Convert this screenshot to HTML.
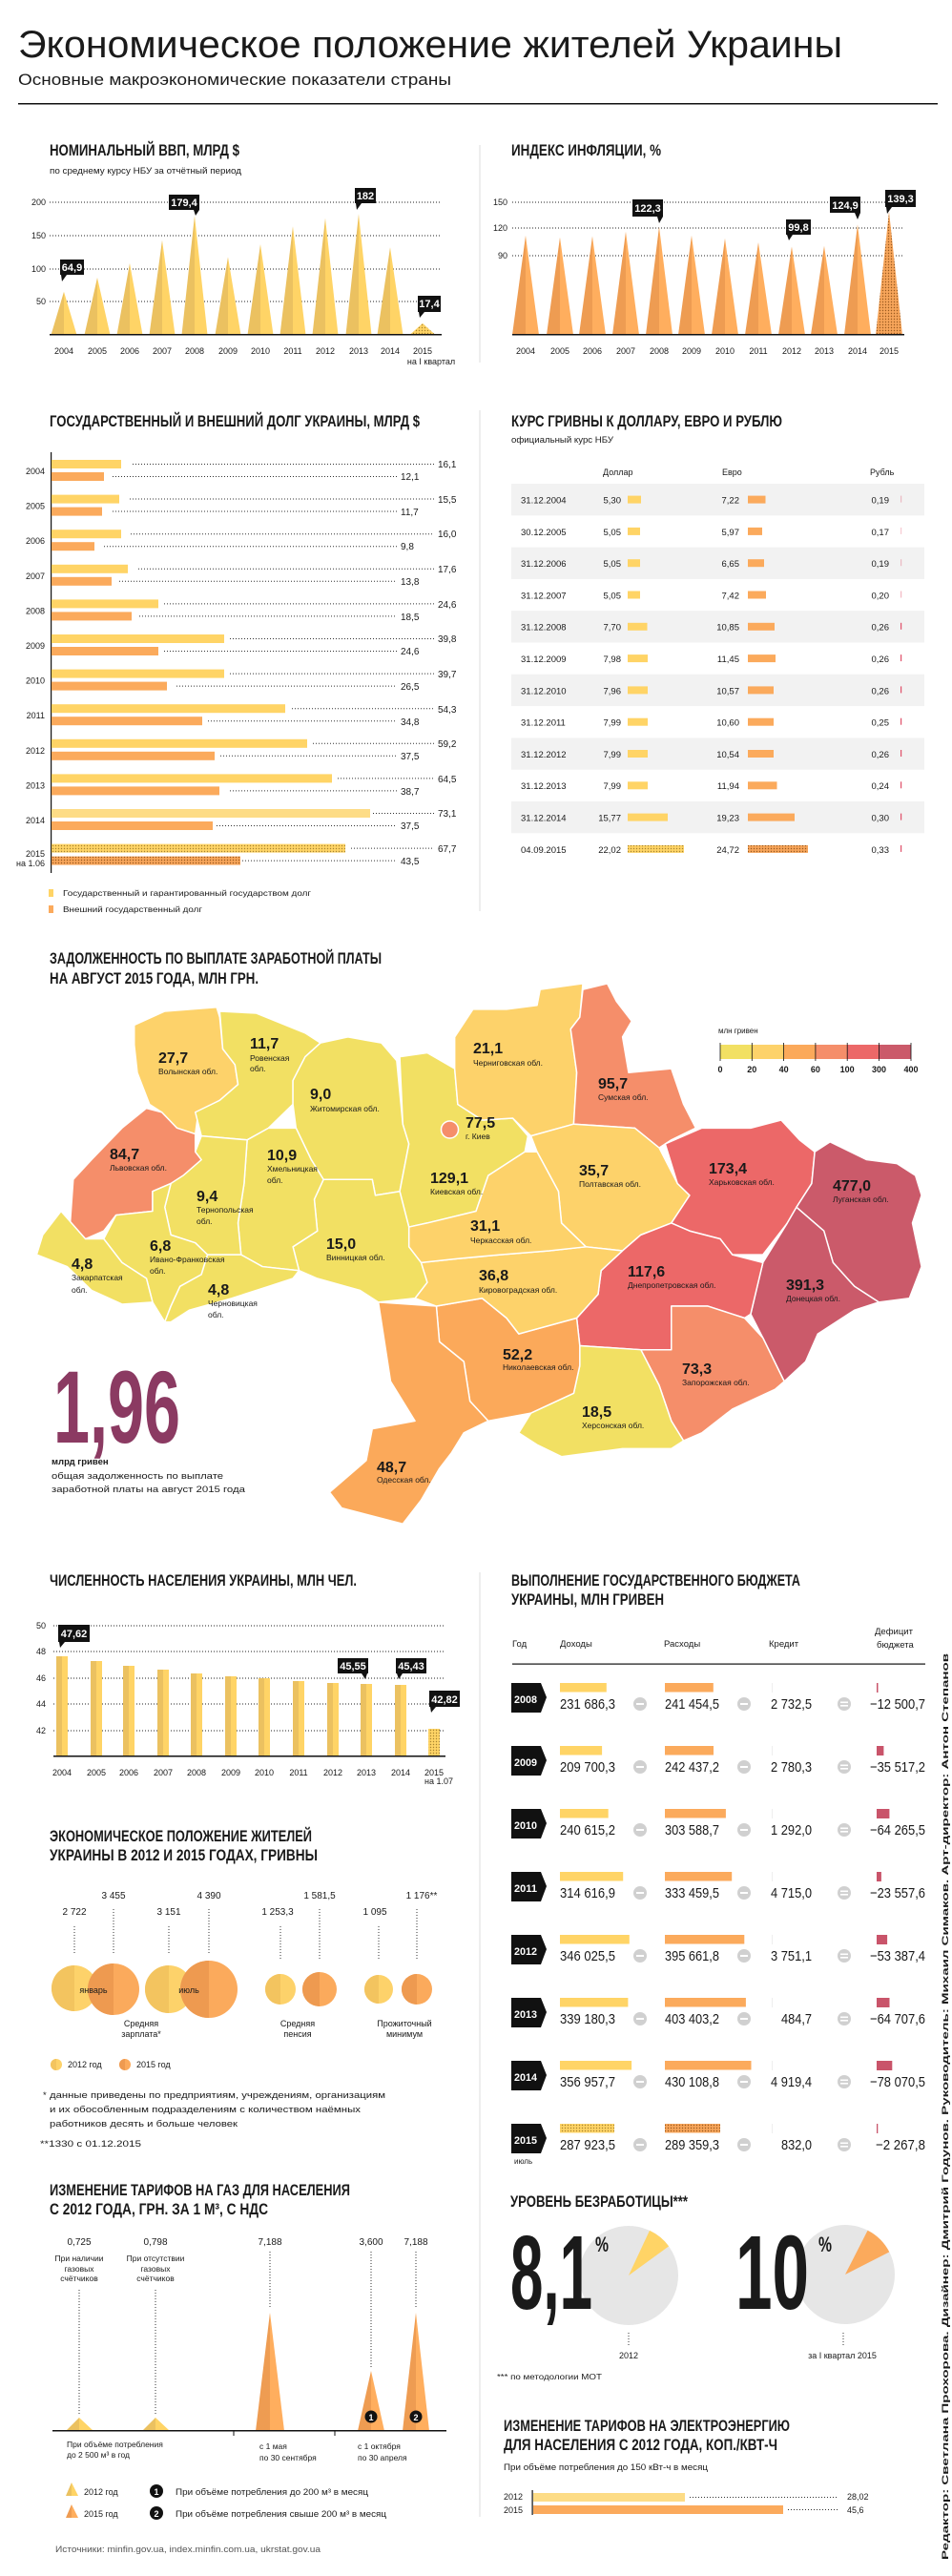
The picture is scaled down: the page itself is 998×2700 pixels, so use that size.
<!DOCTYPE html>
<html><head><meta charset="utf-8"><style>
html,body{margin:0;padding:0;background:#fff;}
svg{display:block;}
text{font-family:"Liberation Sans",sans-serif;fill:#1a1a1a;}
.h{font-weight:bold;font-size:17px;}
.s{font-size:9px;}
.b{font-weight:bold;}
.w{fill:#fff;font-weight:bold;font-size:11px;}
.grid{stroke:#222;stroke-width:1;stroke-dasharray:1 2;}
.dot{stroke:#333;stroke-width:1;stroke-dasharray:1 2;}
</style></head><body>
<svg width="998" height="2700" viewBox="0 0 998 2700" xmlns="http://www.w3.org/2000/svg">
<defs>
<pattern id="py" width="3" height="3" patternUnits="userSpaceOnUse"><rect width="3" height="3" fill="#FFD466"/><circle cx="1.5" cy="1.5" r="0.7" fill="#a88530"/></pattern>
<pattern id="po" width="3" height="3" patternUnits="userSpaceOnUse"><rect width="3" height="3" fill="#F7A55A"/><circle cx="1.5" cy="1.5" r="0.7" fill="#9a5a20"/></pattern>
</defs>

<!-- Title -->
<text x="19" y="60" font-size="40" textLength="864" lengthAdjust="spacingAndGlyphs">Экономическое положение жителей Украины</text>
<text x="19" y="89" font-size="17" textLength="454" lengthAdjust="spacingAndGlyphs">Основные макроэкономические показатели страны</text>
<rect x="19" y="108" width="964" height="1.5" fill="#111"/>

<line x1="503" y1="152" x2="503" y2="380" stroke="#ddd"/>
<line x1="503" y1="430" x2="503" y2="955" stroke="#ddd"/>
<line x1="503" y1="1648" x2="503" y2="2638" stroke="#ddd"/>

<!-- GDP -->
<text class="h" x="52" y="163" textLength="199" lengthAdjust="spacingAndGlyphs">НОМИНАЛЬНЫЙ ВВП, МЛРД $</text>
<text x="52" y="182" font-size="9" textLength="201" lengthAdjust="spacingAndGlyphs">по среднему курсу НБУ за отчётный период</text>
<g class="s" text-anchor="end">
<text x="48" y="215">200</text><text x="48" y="250">150</text><text x="48" y="285">100</text><text x="48" y="319">50</text>
</g>
<line class="grid" x1="52" y1="212" x2="463" y2="212"/><line class="grid" x1="52" y1="247" x2="463" y2="247"/>
<line class="grid" x1="52" y1="282" x2="463" y2="282"/><line class="grid" x1="52" y1="316" x2="463" y2="316"/>
<g id="gdp">
<polygon points="53.5,351 67,305.8 67,351" fill="#EBC160"/><polygon points="67,351 67,305.8 80.5,351" fill="#FFD466"/>
<polygon points="88.5,351 102,291 102,351" fill="#EBC160"/><polygon points="102,351 102,291 115.5,351" fill="#FFD466"/>
<polygon points="122.5,351 136,276 136,351" fill="#EBC160"/><polygon points="136,351 136,276 149.5,351" fill="#FFD466"/>
<polygon points="156.5,351 170,251.7 170,351" fill="#EBC160"/><polygon points="170,351 170,251.7 183.5,351" fill="#FFD466"/>
<polygon points="190.5,351 204,226 204,351" fill="#EBC160"/><polygon points="204,351 204,226 217.5,351" fill="#FFD466"/>
<polygon points="225.5,351 239,269.4 239,351" fill="#EBC160"/><polygon points="239,351 239,269.4 252.5,351" fill="#FFD466"/>
<polygon points="259.5,351 273,256 273,351" fill="#EBC160"/><polygon points="273,351 273,256 286.5,351" fill="#FFD466"/>
<polygon points="293.5,351 307,237.3 307,351" fill="#EBC160"/><polygon points="307,351 307,237.3 320.5,351" fill="#FFD466"/>
<polygon points="327.5,351 341,228.6 341,351" fill="#EBC160"/><polygon points="341,351 341,228.6 354.5,351" fill="#FFD466"/>
<polygon points="362.5,351 376,224.3 376,351" fill="#EBC160"/><polygon points="376,351 376,224.3 389.5,351" fill="#FFD466"/>
<polygon points="395.5,351 409,259.3 409,351" fill="#EBC160"/><polygon points="409,351 409,259.3 422.5,351" fill="#FFD466"/>
<polygon points="429.5,351 443,338.9 456.5,351" fill="url(#py)"/>
</g>
<rect x="52" y="350" width="411" height="1.5" fill="#111"/>
<g class="s" text-anchor="middle">
<text x="67" y="371">2004</text><text x="102" y="371">2005</text><text x="136" y="371">2006</text><text x="170" y="371">2007</text><text x="204" y="371">2008</text><text x="239" y="371">2009</text><text x="273" y="371">2010</text><text x="307" y="371">2011</text><text x="341" y="371">2012</text><text x="376" y="371">2013</text><text x="409" y="371">2014</text><text x="443" y="371">2015</text>
<text x="452" y="382">на I квартал</text>
</g>
<!-- callouts -->
<rect x="63" y="272" width="25" height="16" fill="#111"/><polygon points="64,288 70,288 65,295" fill="#111"/><text class="w" x="75.5" y="284" text-anchor="middle">64,9</text>
<rect x="177" y="204" width="32" height="16" fill="#111"/><polygon points="203,220 209,220 205,226" fill="#111"/><text class="w" x="193" y="216" text-anchor="middle">179,4</text>
<rect x="372" y="197" width="22" height="16" fill="#111"/><polygon points="373,213 379,213 374,220" fill="#111"/><text class="w" x="383" y="209" text-anchor="middle">182</text>
<rect x="438" y="310" width="24" height="17" fill="#111"/><polygon points="439,327 445,327 440,333" fill="#111"/><text class="w" x="450" y="322" text-anchor="middle">17,4</text>

<!-- Inflation -->
<text class="h" x="536" y="163" textLength="157" lengthAdjust="spacingAndGlyphs">ИНДЕКС ИНФЛЯЦИИ, %</text>
<g class="s" text-anchor="end"><text x="532" y="215">150</text><text x="532" y="242">120</text><text x="532" y="271">90</text></g>
<line class="grid" x1="537" y1="212" x2="948" y2="212"/><line class="grid" x1="537" y1="239" x2="948" y2="239"/><line class="grid" x1="537" y1="268" x2="948" y2="268"/>
<g>
<polygon points="537,351 551,246.9 551,351" fill="#EE9C52"/><polygon points="551,351 551,246.9 565,351" fill="#FFAE5E"/>
<polygon points="573,351 587,248.7 587,351" fill="#EE9C52"/><polygon points="587,351 587,248.7 601,351" fill="#FFAE5E"/>
<polygon points="607,351 621,247.5 621,351" fill="#EE9C52"/><polygon points="621,351 621,247.5 635,351" fill="#FFAE5E"/>
<polygon points="642,351 656,242.9 656,351" fill="#EE9C52"/><polygon points="656,351 656,242.9 670,351" fill="#FFAE5E"/>
<polygon points="677,351 691,237.6 691,351" fill="#EE9C52"/><polygon points="691,351 691,237.6 705,351" fill="#FFAE5E"/>
<polygon points="711,351 725,246.9 725,351" fill="#EE9C52"/><polygon points="725,351 725,246.9 739,351" fill="#FFAE5E"/>
<polygon points="746,351 760,249.9 760,351" fill="#EE9C52"/><polygon points="760,351 760,249.9 774,351" fill="#FFAE5E"/>
<polygon points="781,351 795,254 795,351" fill="#EE9C52"/><polygon points="795,351 795,254 809,351" fill="#FFAE5E"/>
<polygon points="816,351 830,258.5 830,351" fill="#EE9C52"/><polygon points="830,351 830,258.5 844,351" fill="#FFAE5E"/>
<polygon points="850,351 864,257.8 864,351" fill="#EE9C52"/><polygon points="864,351 864,257.8 878,351" fill="#FFAE5E"/>
<polygon points="885,351 899,235.2 899,351" fill="#EE9C52"/><polygon points="899,351 899,235.2 913,351" fill="#FFAE5E"/>
<polygon points="918,351 932,221.9 946,351" fill="url(#po)"/>
</g>
<rect x="537" y="350" width="411" height="1.5" fill="#111"/>
<g class="s" text-anchor="middle">
<text x="551" y="371">2004</text><text x="587" y="371">2005</text><text x="621" y="371">2006</text><text x="656" y="371">2007</text><text x="691" y="371">2008</text><text x="725" y="371">2009</text><text x="760" y="371">2010</text><text x="795" y="371">2011</text><text x="830" y="371">2012</text><text x="864" y="371">2013</text><text x="899" y="371">2014</text><text x="932" y="371">2015</text>
</g>
<rect x="663" y="209" width="32" height="18" fill="#111"/><polygon points="689,227 695,227 691,234" fill="#111"/><text class="w" x="679" y="222" text-anchor="middle">122,3</text>
<rect x="824" y="230" width="26" height="16" fill="#111"/><polygon points="825,246 831,246 827,252" fill="#111"/><text class="w" x="837" y="242" text-anchor="middle">99,8</text>
<rect x="870" y="206" width="32" height="17" fill="#111"/><polygon points="896,223 902,223 899,230" fill="#111"/><text class="w" x="886" y="219" text-anchor="middle">124,9</text>
<rect x="928" y="199" width="32" height="18" fill="#111"/><polygon points="929,217 935,217 930,224" fill="#111"/><text class="w" x="944" y="212" text-anchor="middle">139,3</text>

<!-- Debt -->
<text class="h" x="52" y="447" textLength="388" lengthAdjust="spacingAndGlyphs">ГОСУДАРСТВЕННЫЙ И ВНЕШНИЙ ДОЛГ УКРАИНЫ, МЛРД $</text>
<rect x="53" y="474" width="1.2" height="441" fill="#111"/>
<g font-size="10">
<!-- rows: yellow y=482+36.6i, orange y=495+36.6i -->
<rect x="54" y="482" width="73" height="9" fill="#FFD466"/><rect x="54" y="495" width="55" height="9" fill="#FBAA5C"/>
<line class="dot" x1="139" y1="486.5" x2="455" y2="486.5"/><line class="dot" x1="118" y1="499.5" x2="416" y2="499.5"/>
<text x="459" y="490">16,1</text><text x="420" y="503">12,1</text>
<rect x="54" y="518.6" width="71" height="9" fill="#FFD466"/><rect x="54" y="531.6" width="53" height="9" fill="#FBAA5C"/>
<line class="dot" x1="136" y1="523" x2="455" y2="523"/><line class="dot" x1="118" y1="536" x2="416" y2="536"/>
<text x="459" y="527">15,5</text><text x="420" y="540">11,7</text>
<rect x="54" y="555.2" width="73" height="9" fill="#FFD466"/><rect x="54" y="568.2" width="45" height="9" fill="#FBAA5C"/>
<line class="dot" x1="137" y1="559.7" x2="455" y2="559.7"/><line class="dot" x1="109" y1="572.7" x2="416" y2="572.7"/>
<text x="459" y="563">16,0</text><text x="420" y="576">9,8</text>
<rect x="54" y="591.8" width="80" height="9" fill="#FFD466"/><rect x="54" y="604.8" width="63" height="9" fill="#FBAA5C"/>
<line class="dot" x1="145" y1="596.3" x2="455" y2="596.3"/><line class="dot" x1="125" y1="609.3" x2="416" y2="609.3"/>
<text x="459" y="600">17,6</text><text x="420" y="613">13,8</text>
<rect x="54" y="628.4" width="112" height="9" fill="#FFD466"/><rect x="54" y="641.4" width="84" height="9" fill="#FBAA5C"/>
<line class="dot" x1="172" y1="632.9" x2="455" y2="632.9"/><line class="dot" x1="146" y1="645.9" x2="416" y2="645.9"/>
<text x="459" y="637">24,6</text><text x="420" y="650">18,5</text>
<rect x="54" y="665" width="181" height="9" fill="#FFD466"/><rect x="54" y="678" width="112" height="9" fill="#FBAA5C"/>
<line class="dot" x1="241" y1="669.5" x2="455" y2="669.5"/><line class="dot" x1="172" y1="682.5" x2="416" y2="682.5"/>
<text x="459" y="673">39,8</text><text x="420" y="686">24,6</text>
<rect x="54" y="701.6" width="181" height="9" fill="#FFD466"/><rect x="54" y="714.6" width="121" height="9" fill="#FBAA5C"/>
<line class="dot" x1="241" y1="706.1" x2="455" y2="706.1"/><line class="dot" x1="185" y1="719.1" x2="416" y2="719.1"/>
<text x="459" y="710">39,7</text><text x="420" y="723">26,5</text>
<rect x="54" y="738.2" width="245" height="9" fill="#FFD466"/><rect x="54" y="751.2" width="158" height="9" fill="#FBAA5C"/>
<line class="dot" x1="306" y1="742.7" x2="455" y2="742.7"/><line class="dot" x1="218" y1="755.7" x2="416" y2="755.7"/>
<text x="459" y="747">54,3</text><text x="420" y="760">34,8</text>
<rect x="54" y="774.8" width="268" height="9" fill="#FFD466"/><rect x="54" y="787.8" width="171" height="9" fill="#FBAA5C"/>
<line class="dot" x1="328" y1="779.3" x2="455" y2="779.3"/><line class="dot" x1="231" y1="792.3" x2="416" y2="792.3"/>
<text x="459" y="783">59,2</text><text x="420" y="796">37,5</text>
<rect x="54" y="811.4" width="294" height="9" fill="#FFD466"/><rect x="54" y="824.4" width="176" height="9" fill="#FBAA5C"/>
<line class="dot" x1="354" y1="815.9" x2="455" y2="815.9"/><line class="dot" x1="241" y1="828.9" x2="416" y2="828.9"/>
<text x="459" y="820">64,5</text><text x="420" y="833">38,7</text>
<rect x="54" y="848" width="334" height="9" fill="#FDDC86"/><rect x="54" y="861" width="169" height="9" fill="#FBAA5C"/>
<line class="dot" x1="391" y1="852.5" x2="455" y2="852.5"/><line class="dot" x1="227" y1="865.5" x2="416" y2="865.5"/>
<text x="459" y="856">73,1</text><text x="420" y="869">37,5</text>
<rect x="54" y="884.6" width="308" height="9" fill="url(#py)"/><rect x="54" y="897.6" width="198" height="9" fill="url(#po)"/>
<line class="dot" x1="368" y1="889.1" x2="455" y2="889.1"/><line class="dot" x1="254" y1="902.1" x2="416" y2="902.1"/>
<text x="459" y="893">67,7</text><text x="420" y="906">43,5</text>
</g>
<g font-size="9" text-anchor="end">
<text x="47" y="497">2004</text><text x="47" y="533.6">2005</text><text x="47" y="570.2">2006</text><text x="47" y="606.8">2007</text><text x="47" y="643.4">2008</text><text x="47" y="680">2009</text><text x="47" y="716.6">2010</text><text x="47" y="753.2">2011</text><text x="47" y="789.8">2012</text><text x="47" y="826.4">2013</text><text x="47" y="863">2014</text><text x="47" y="898">2015</text><text x="47" y="908">на 1.06</text>
</g>
<rect x="51" y="932" width="5" height="8" fill="#FFD466"/><text x="66" y="939" font-size="8.5" textLength="260" lengthAdjust="spacingAndGlyphs">Государственный и гарантированный государством долг</text>
<rect x="51" y="949" width="5" height="8" fill="#FBAA5C"/><text x="66" y="956" font-size="8.5" textLength="146" lengthAdjust="spacingAndGlyphs">Внешний государственный долг</text>

<!-- Kurs -->
<text class="h" x="536" y="447" textLength="284" lengthAdjust="spacingAndGlyphs">КУРС ГРИВНЫ К ДОЛЛАРУ, ЕВРО И РУБЛЮ</text>
<text x="536" y="464" font-size="9" textLength="107" lengthAdjust="spacingAndGlyphs">официальный курс НБУ</text>
<g font-size="9"><text x="632" y="498">Доллар</text><text x="757" y="498">Евро</text><text x="912" y="498">Рубль</text></g>
<g fill="#f2f2f2">
<rect x="536" y="507" width="433" height="33.3"/><rect x="536" y="573.6" width="433" height="33.3"/><rect x="536" y="640.2" width="433" height="33.3"/><rect x="536" y="706.8" width="433" height="33.3"/><rect x="536" y="773.4" width="433" height="33.3"/><rect x="536" y="840" width="433" height="33.3"/>
</g>
<g font-size="9.5">
<g><text x="546" y="527.5">31.12.2004</text><text x="651" y="527.5" text-anchor="end">5,30</text><text x="775" y="527.5" text-anchor="end">7,22</text><text x="932" y="527.5" text-anchor="end">0,19</text></g>
<g><text x="546" y="560.8">30.12.2005</text><text x="651" y="560.8" text-anchor="end">5,05</text><text x="775" y="560.8" text-anchor="end">5,97</text><text x="932" y="560.8" text-anchor="end">0,17</text></g>
<g><text x="546" y="594.1">31.12.2006</text><text x="651" y="594.1" text-anchor="end">5,05</text><text x="775" y="594.1" text-anchor="end">6,65</text><text x="932" y="594.1" text-anchor="end">0,19</text></g>
<g><text x="546" y="627.4">31.12.2007</text><text x="651" y="627.4" text-anchor="end">5,05</text><text x="775" y="627.4" text-anchor="end">7,42</text><text x="932" y="627.4" text-anchor="end">0,20</text></g>
<g><text x="546" y="660.7">31.12.2008</text><text x="651" y="660.7" text-anchor="end">7,70</text><text x="775" y="660.7" text-anchor="end">10,85</text><text x="932" y="660.7" text-anchor="end">0,26</text></g>
<g><text x="546" y="694">31.12.2009</text><text x="651" y="694" text-anchor="end">7,98</text><text x="775" y="694" text-anchor="end">11,45</text><text x="932" y="694" text-anchor="end">0,26</text></g>
<g><text x="546" y="727.3">31.12.2010</text><text x="651" y="727.3" text-anchor="end">7,96</text><text x="775" y="727.3" text-anchor="end">10,57</text><text x="932" y="727.3" text-anchor="end">0,26</text></g>
<g><text x="546" y="760.6">31.12.2011</text><text x="651" y="760.6" text-anchor="end">7,99</text><text x="775" y="760.6" text-anchor="end">10,60</text><text x="932" y="760.6" text-anchor="end">0,25</text></g>
<g><text x="546" y="793.9">31.12.2012</text><text x="651" y="793.9" text-anchor="end">7,99</text><text x="775" y="793.9" text-anchor="end">10,54</text><text x="932" y="793.9" text-anchor="end">0,26</text></g>
<g><text x="546" y="827.2">31.12.2013</text><text x="651" y="827.2" text-anchor="end">7,99</text><text x="775" y="827.2" text-anchor="end">11,94</text><text x="932" y="827.2" text-anchor="end">0,24</text></g>
<g><text x="546" y="860.5">31.12.2014</text><text x="651" y="860.5" text-anchor="end">15,77</text><text x="775" y="860.5" text-anchor="end">19,23</text><text x="932" y="860.5" text-anchor="end">0,30</text></g>
<g><text x="546" y="893.8">04.09.2015</text><text x="651" y="893.8" text-anchor="end">22,02</text><text x="775" y="893.8" text-anchor="end">24,72</text><text x="932" y="893.8" text-anchor="end">0,33</text></g>
</g>
<g fill="#FFD466">
<rect x="658" y="519.6" width="14" height="8"/><rect x="658" y="552.9" width="13" height="8"/><rect x="658" y="586.2" width="13" height="8"/><rect x="658" y="619.5" width="13" height="8"/><rect x="658" y="652.8" width="20.5" height="8"/><rect x="658" y="686.1" width="21" height="8"/><rect x="658" y="719.4" width="21" height="8"/><rect x="658" y="752.7" width="21" height="8"/><rect x="658" y="786" width="21" height="8"/><rect x="658" y="819.3" width="21" height="8"/><rect x="658" y="852.6" width="42" height="8"/><rect x="658" y="885.9" width="59" height="8" fill="url(#py)"/>
</g>
<g fill="#FBAA5C">
<rect x="784" y="519.6" width="18.5" height="8"/><rect x="784" y="552.9" width="15" height="8"/><rect x="784" y="586.2" width="17" height="8"/><rect x="784" y="619.5" width="19" height="8"/><rect x="784" y="652.8" width="28" height="8"/><rect x="784" y="686.1" width="29" height="8"/><rect x="784" y="719.4" width="27" height="8"/><rect x="784" y="752.7" width="27" height="8"/><rect x="784" y="786" width="27" height="8"/><rect x="784" y="819.3" width="30.5" height="8"/><rect x="784" y="852.6" width="49" height="8"/><rect x="784" y="885.9" width="63" height="8" fill="url(#po)"/>
</g>
<g fill="#E0506A">
<rect x="944" y="519.6" width="1.2" height="7" opacity=".35"/><rect x="944" y="552.9" width="1.2" height="7" opacity=".3"/><rect x="944" y="586.2" width="1.2" height="7" opacity=".35"/><rect x="944" y="619.5" width="1.2" height="7" opacity=".4"/><rect x="944" y="652.8" width="1.2" height="7"/><rect x="944" y="686.1" width="1.2" height="7"/><rect x="944" y="719.4" width="1.2" height="7"/><rect x="944" y="752.7" width="1.2" height="7"/><rect x="944" y="786" width="1.2" height="7"/><rect x="944" y="819.3" width="1.2" height="7"/><rect x="944" y="852.6" width="1.2" height="7"/><rect x="944" y="885.9" width="1.2" height="7"/>
</g>

<!-- Map -->
<text class="h" x="52" y="1010" textLength="348" lengthAdjust="spacingAndGlyphs">ЗАДОЛЖЕННОСТЬ ПО ВЫПЛАТЕ ЗАРАБОТНОЙ ПЛАТЫ</text>
<text class="h" x="52" y="1031" textLength="219" lengthAdjust="spacingAndGlyphs">НА АВГУСТ 2015 ГОДА, МЛН ГРН.</text>
<g transform="translate(0,950) scale(0.6398,0.4149)" stroke="#fff" stroke-width="1.5" stroke-linejoin="round">
<polygon vector-effect="non-scaling-stroke" fill="#FDD26A" points="220,300 270,265 355,255 360,280 365,360 385,400 390,450 360,490 325,520 320,575 290,560 265,520 245,500 225,420 220,350"/>
<polygon vector-effect="non-scaling-stroke" fill="#F2E063" points="360,265 420,270 500,320 525,345 500,380 480,440 480,500 440,560 405,590 330,580 320,520 360,490 390,450 385,400 365,360"/>
<polygon vector-effect="non-scaling-stroke" fill="#F2E063" points="500,380 525,345 570,330 625,345 650,390 660,550 670,600 655,720 615,730 610,690 530,690 510,640 485,560 480,500 480,440"/>
<polygon vector-effect="non-scaling-stroke" fill="#F2E063" points="655,380 700,370 745,410 750,500 790,540 840,535 865,580 860,620 800,680 780,770 700,800 670,810 655,720 670,600 660,550"/>
<polygon vector-effect="non-scaling-stroke" fill="#FDD26A" points="745,330 775,260 830,260 880,250 885,210 955,195 950,280 935,310 945,420 940,550 870,580 840,535 790,540 750,500 745,410"/>
<polygon vector-effect="non-scaling-stroke" fill="#F58E6A" points="955,210 995,195 1010,240 1035,290 1020,330 1030,420 1100,410 1120,500 1140,560 1100,590 1080,610 1040,560 940,550 945,420 935,310 950,280"/>
<polygon vector-effect="non-scaling-stroke" fill="#FDD26A" points="870,580 940,550 1040,560 1080,610 1090,640 1110,700 1130,730 1100,800 1050,830 1020,870 960,860 920,800 915,720 880,620"/>
<polygon vector-effect="non-scaling-stroke" fill="#EC6868" points="1090,600 1150,560 1230,560 1280,540 1310,590 1335,620 1330,700 1305,760 1290,800 1250,880 1200,880 1180,840 1130,820 1100,800 1130,730 1110,700"/>
<polygon vector-effect="non-scaling-stroke" fill="#CB5A6A" points="1335,620 1360,595 1420,640 1470,650 1500,680 1510,730 1495,800 1510,910 1490,990 1440,1000 1400,960 1365,900 1350,820 1305,760 1330,700"/>
<polygon vector-effect="non-scaling-stroke" fill="#CB5A6A" points="1305,760 1350,820 1365,900 1400,960 1440,1000 1400,1020 1340,1080 1320,1150 1285,1200 1250,1090 1230,1030 1250,900 1290,800"/>
<polygon vector-effect="non-scaling-stroke" fill="#EC6868" points="1020,870 1050,830 1100,800 1130,820 1180,840 1200,880 1250,900 1230,1030 1220,1040 1160,1010 1100,1010 1100,1120 1050,1120 950,1110 945,1040 980,980 985,920"/>
<polygon vector-effect="non-scaling-stroke" fill="#F58E6A" points="1100,1010 1160,1010 1220,1040 1250,1090 1285,1200 1270,1220 1200,1270 1150,1330 1120,1350 1100,1300 1080,1210 1050,1120 1100,1120"/>
<polygon vector-effect="non-scaling-stroke" fill="#F2E063" points="950,1110 1050,1120 1080,1210 1100,1300 1120,1350 1100,1370 1020,1370 920,1390 880,1360 850,1330 870,1280 940,1230 950,1160"/>
<polygon vector-effect="non-scaling-stroke" fill="#FBA95A" points="715,1010 790,990 830,1040 850,1080 945,1040 950,1110 950,1160 940,1230 870,1280 800,1300 770,1250 760,1150 720,1100"/>
<polygon vector-effect="non-scaling-stroke" fill="#FBA95A" points="620,1000 715,1010 720,1100 760,1150 770,1250 800,1300 760,1330 740,1380 720,1420 690,1500 660,1560 560,1520 540,1480 600,1400 610,1320 680,1300 640,1200 630,1100"/>
<polygon vector-effect="non-scaling-stroke" fill="#FDD26A" points="690,900 750,890 820,880 900,870 960,860 1020,870 985,920 980,980 945,1040 850,1080 830,1040 790,990 715,1010 680,990 700,950"/>
<polygon vector-effect="non-scaling-stroke" fill="#FDD26A" points="670,810 700,800 780,770 800,680 860,620 880,620 915,720 920,800 960,860 900,870 820,880 750,890 690,900 670,860"/>
<polygon vector-effect="non-scaling-stroke" fill="#F2E063" points="530,690 610,690 615,730 655,720 670,810 670,860 690,900 700,950 680,990 620,1000 590,970 520,940 490,920 480,860 520,820 515,740"/>
<polygon vector-effect="non-scaling-stroke" fill="#F2E063" points="405,590 440,560 485,560 510,640 530,690 515,740 520,820 480,860 490,920 430,910 395,880 390,800 400,700"/>
<polygon vector-effect="non-scaling-stroke" fill="#F2E063" points="330,580 405,590 400,700 390,800 395,880 340,880 320,850 280,830 270,760 280,700 300,650 320,620"/>
<polygon vector-effect="non-scaling-stroke" fill="#F58E6A" points="240,510 265,520 290,560 320,575 320,620 330,640 300,680 280,700 250,720 250,770 190,780 170,820 140,840 115,800 120,690 150,640 200,560"/>
<polygon vector-effect="non-scaling-stroke" fill="#F2E063" points="250,720 280,700 270,760 280,830 320,850 340,880 330,930 295,960 280,1010 270,1050 250,1000 240,940 200,900 170,840 190,780 250,770"/>
<polygon vector-effect="non-scaling-stroke" fill="#F2E063" points="340,880 395,880 430,910 490,920 480,940 440,960 380,990 310,1020 280,1050 270,1050 280,1010 295,960 330,930"/>
<polygon vector-effect="non-scaling-stroke" fill="#F2E063" points="100,770 140,840 170,840 200,900 240,940 250,1000 200,1005 150,970 110,910 60,880 70,830"/>
</g>
<circle cx="471.5" cy="1184" r="9" fill="#F58E6A" stroke="#fff" stroke-width="1.5"/>
<g font-size="8.5">
<g font-weight="bold" font-size="16">
<text x="166" y="1114">27,7</text><text x="262" y="1099">11,7</text><text x="325" y="1152">9,0</text><text x="488" y="1182">77,5</text><text x="496" y="1104">21,1</text><text x="627" y="1141">95,7</text><text x="115" y="1215">84,7</text><text x="280" y="1216">10,9</text><text x="451" y="1240">129,1</text><text x="607" y="1232">35,7</text><text x="743" y="1230">173,4</text><text x="873" y="1248">477,0</text><text x="206" y="1259">9,4</text><text x="493" y="1290">31,1</text><text x="157" y="1311">6,8</text><text x="342" y="1309">15,0</text><text x="75" y="1330">4,8</text><text x="502" y="1342">36,8</text><text x="658" y="1338">117,6</text><text x="824" y="1352">391,3</text><text x="218" y="1357">4,8</text><text x="527" y="1425">52,2</text><text x="715" y="1440">73,3</text><text x="610" y="1485">18,5</text><text x="395" y="1543">48,7</text>
</g>
<text x="166" y="1126">Волынская обл.</text>
<text x="262" y="1112">Ровенская</text><text x="262" y="1123">обл.</text>
<text x="325" y="1165">Житомирская обл.</text>
<text x="488" y="1194">г. Киев</text>
<text x="496" y="1117">Черниговская обл.</text>
<text x="627" y="1153">Сумская обл.</text>
<text x="115" y="1227">Львовская обл.</text>
<text x="280" y="1228">Хмельницкая</text><text x="280" y="1240">обл.</text>
<text x="451" y="1252">Киевская обл.</text>
<text x="607" y="1244">Полтавская обл.</text>
<text x="743" y="1242">Харьковская обл.</text>
<text x="873" y="1260">Луганская обл.</text>
<text x="206" y="1271">Тернопольская</text><text x="206" y="1283">обл.</text>
<text x="493" y="1303">Черкасская обл.</text>
<text x="157" y="1323">Ивано-Франковская</text><text x="157" y="1335">обл.</text>
<text x="342" y="1321">Винницкая обл.</text>
<text x="75" y="1342">Закарпатская</text><text x="75" y="1355">обл.</text>
<text x="502" y="1355">Кировоградская обл.</text>
<text x="658" y="1350">Днепропетровская обл.</text>
<text x="824" y="1364">Донецкая обл.</text>
<text x="218" y="1369">Черновицкая</text><text x="218" y="1381">обл.</text>
<text x="527" y="1436">Николаевская обл.</text>
<text x="715" y="1452">Запорожская обл.</text>
<text x="610" y="1497">Херсонская обл.</text>
<text x="395" y="1554">Одесская обл.</text>
</g>
<!-- legend -->
<text x="753" y="1083" font-size="8" fill="#444">млн гривен</text>
<rect x="755" y="1095" width="33.3" height="15" fill="#F2E063"/><rect x="788.3" y="1095" width="33.3" height="15" fill="#FDD26A"/><rect x="821.6" y="1095" width="33.3" height="15" fill="#FBA95A"/><rect x="854.9" y="1095" width="33.3" height="15" fill="#F58E6A"/><rect x="888.2" y="1095" width="33.3" height="15" fill="#EC6868"/><rect x="921.5" y="1095" width="33.5" height="15" fill="#CB5A6A"/>
<g stroke="#111" stroke-width="0.8"><line x1="755" y1="1093" x2="755" y2="1112"/><line x1="788.3" y1="1093" x2="788.3" y2="1112"/><line x1="821.6" y1="1093" x2="821.6" y2="1112"/><line x1="854.9" y1="1093" x2="854.9" y2="1112"/><line x1="888.2" y1="1093" x2="888.2" y2="1112"/><line x1="921.5" y1="1093" x2="921.5" y2="1112"/><line x1="955" y1="1093" x2="955" y2="1112"/></g>
<g font-size="9" font-weight="bold" text-anchor="middle"><text x="755" y="1124">0</text><text x="788.3" y="1124">20</text><text x="821.6" y="1124">40</text><text x="854.9" y="1124">60</text><text x="888.2" y="1124">100</text><text x="921.5" y="1124">300</text><text x="955" y="1124">400</text></g>
<!-- 1,96 -->
<text x="56" y="1512" font-size="108" font-weight="bold" fill="#8B3A62" textLength="133" lengthAdjust="spacingAndGlyphs" style="fill:#8B3A62">1,96</text>
<text x="54" y="1535" font-size="9.5" font-weight="bold">млрд гривен</text>
<text x="54" y="1550" font-size="9.5" textLength="180" lengthAdjust="spacingAndGlyphs">общая задолженность по выплате</text>
<text x="54" y="1564" font-size="9.5" textLength="203" lengthAdjust="spacingAndGlyphs">заработной платы на август 2015 года</text>

<!-- Population -->
<text class="h" x="52" y="1662" textLength="322" lengthAdjust="spacingAndGlyphs">ЧИСЛЕННОСТЬ НАСЕЛЕНИЯ УКРАИНЫ, МЛН ЧЕЛ.</text>
<g class="s" font-size="8.5" text-anchor="end"><text x="48" y="1707">50</text><text x="48" y="1734">48</text><text x="48" y="1762">46</text><text x="48" y="1789">44</text><text x="48" y="1817">42</text></g>
<line class="grid" x1="56" y1="1704" x2="467" y2="1704"/><line class="grid" x1="56" y1="1731" x2="467" y2="1731"/><line class="grid" x1="56" y1="1759" x2="467" y2="1759"/><line class="grid" x1="56" y1="1786" x2="467" y2="1786"/><line class="grid" x1="56" y1="1814" x2="467" y2="1814"/>
<g>
<rect x="59" y="1736" width="6" height="105" fill="#EBC160"/><rect x="65" y="1736" width="6" height="105" fill="#FFD466"/>
<rect x="95" y="1741" width="6" height="100" fill="#EBC160"/><rect x="101" y="1741" width="6" height="100" fill="#FFD466"/>
<rect x="129" y="1746" width="6" height="95" fill="#EBC160"/><rect x="135" y="1746" width="6" height="95" fill="#FFD466"/>
<rect x="165" y="1750" width="6" height="91" fill="#EBC160"/><rect x="171" y="1750" width="6" height="91" fill="#FFD466"/>
<rect x="200" y="1754" width="6" height="87" fill="#EBC160"/><rect x="206" y="1754" width="6" height="87" fill="#FFD466"/>
<rect x="236" y="1757" width="6" height="84" fill="#EBC160"/><rect x="242" y="1757" width="6" height="84" fill="#FFD466"/>
<rect x="271" y="1759" width="6" height="82" fill="#EBC160"/><rect x="277" y="1759" width="6" height="82" fill="#FFD466"/>
<rect x="307" y="1762" width="6" height="79" fill="#EBC160"/><rect x="313" y="1762" width="6" height="79" fill="#FFD466"/>
<rect x="343" y="1764" width="6" height="77" fill="#EBC160"/><rect x="349" y="1764" width="6" height="77" fill="#FFD466"/>
<rect x="378" y="1765" width="6" height="76" fill="#EBC160"/><rect x="384" y="1765" width="6" height="76" fill="#FFD466"/>
<rect x="414" y="1766" width="6" height="75" fill="#EBC160"/><rect x="420" y="1766" width="6" height="75" fill="#FFD466"/>
<rect x="449" y="1812" width="12" height="29" fill="url(#py)"/>
</g>
<rect x="56" y="1840" width="411" height="1.5" fill="#111"/>
<g class="s" font-size="8.5" text-anchor="middle">
<text x="65" y="1861">2004</text><text x="101" y="1861">2005</text><text x="135" y="1861">2006</text><text x="171" y="1861">2007</text><text x="206" y="1861">2008</text><text x="242" y="1861">2009</text><text x="277" y="1861">2010</text><text x="313" y="1861">2011</text><text x="349" y="1861">2012</text><text x="384" y="1861">2013</text><text x="420" y="1861">2014</text><text x="455" y="1861">2015</text><text x="460" y="1870">на 1.07</text>
</g>
<rect x="61" y="1703" width="33" height="18" fill="#111"/><polygon points="62,1721 68,1721 63,1727" fill="#111"/><text class="w" x="77.5" y="1716" text-anchor="middle">47,62</text>
<rect x="354" y="1738" width="32" height="16" fill="#111"/><polygon points="379,1754 385,1754 383,1760" fill="#111"/><text class="w" x="370" y="1750" text-anchor="middle">45,55</text>
<rect x="415" y="1738" width="32" height="16" fill="#111"/><polygon points="416,1754 422,1754 418,1760" fill="#111"/><text class="w" x="431" y="1750" text-anchor="middle">45,43</text>
<rect x="450" y="1772" width="32" height="17" fill="#111"/><polygon points="451,1789 457,1789 452,1795" fill="#111"/><text class="w" x="466" y="1785" text-anchor="middle">42,82</text>

<!-- Economic circles -->
<text class="h" x="52" y="1930" textLength="275" lengthAdjust="spacingAndGlyphs">ЭКОНОМИЧЕСКОЕ ПОЛОЖЕНИЕ ЖИТЕЛЕЙ</text>
<text class="h" x="52" y="1950" textLength="281" lengthAdjust="spacingAndGlyphs">УКРАИНЫ В 2012 И 2015 ГОДАХ, ГРИВНЫ</text>
<g font-size="10" text-anchor="middle">
<text x="119" y="1990">3 455</text><text x="219" y="1990">4 390</text><text x="335" y="1990">1 581,5</text><text x="442" y="1990">1 176**</text>
<text x="78" y="2007">2 722</text><text x="177" y="2007">3 151</text><text x="291" y="2007">1 253,3</text><text x="393" y="2007">1 095</text>
</g>
<g class="dot"><line x1="78" y1="2019" x2="78" y2="2047"/><line x1="119" y1="2001" x2="119" y2="2047"/><line x1="177" y1="2019" x2="177" y2="2047"/><line x1="219" y1="2001" x2="219" y2="2047"/><line x1="294" y1="2019" x2="294" y2="2055"/><line x1="335" y1="2001" x2="335" y2="2055"/><line x1="397" y1="2019" x2="397" y2="2055"/><line x1="437" y1="2001" x2="437" y2="2055"/></g>
<circle cx="78" cy="2084" r="24" fill="#FDD26A"/><path d="M78,2060 A24,24 0 0 0 78,2108 Z" fill="#F3C45F"/>
<circle cx="119" cy="2085" r="27" fill="#FBAA5C"/><path d="M119,2058 A27,27 0 0 0 119,2112 Z" fill="#EE9A50"/>
<circle cx="177" cy="2085" r="25" fill="#FDD26A"/><path d="M177,2060 A25,25 0 0 0 177,2110 Z" fill="#F3C45F"/>
<circle cx="219" cy="2085" r="30" fill="#FBAA5C"/><path d="M219,2055 A30,30 0 0 0 219,2115 Z" fill="#EE9A50"/>
<circle cx="294" cy="2085" r="16" fill="#FDD26A"/><path d="M294,2069 A16,16 0 0 0 294,2101 Z" fill="#F3C45F"/>
<circle cx="335" cy="2085" r="18" fill="#FBAA5C"/><path d="M335,2067 A18,18 0 0 0 335,2103 Z" fill="#EE9A50"/>
<circle cx="397" cy="2085" r="15" fill="#FDD26A"/><path d="M397,2070 A15,15 0 0 0 397,2100 Z" fill="#F3C45F"/>
<circle cx="437" cy="2085" r="16" fill="#FBAA5C"/><path d="M437,2069 A16,16 0 0 0 437,2101 Z" fill="#EE9A50"/>
<g font-size="9" text-anchor="middle">
<text x="98" y="2089">январь</text><text x="198" y="2089">июль</text>
<text x="148" y="2124">Средняя</text><text x="148" y="2135">зарплата*</text>
<text x="312" y="2124">Средняя</text><text x="312" y="2135">пенсия</text>
<text x="424" y="2124">Прожиточный</text><text x="424" y="2135">минимум</text>
</g>
<circle cx="59" cy="2164" r="6" fill="#FDD26A"/><path d="M59,2158 A6,6 0 0 0 59,2170 Z" fill="#F3C45F"/><text x="71" y="2167" font-size="9">2012 год</text>
<circle cx="131" cy="2164" r="6" fill="#FBAA5C"/><path d="M131,2158 A6,6 0 0 0 131,2170 Z" fill="#EE9A50"/><text x="143" y="2167" font-size="9">2015 год</text>
<g font-size="9.5">
<text x="45" y="2199">*</text><text x="52" y="2199" textLength="352" lengthAdjust="spacingAndGlyphs">данные приведены по предприятиям, учреждениям, организациям</text>
<text x="52" y="2214" textLength="326" lengthAdjust="spacingAndGlyphs">и их обособленным подразделениям с количеством наёмных</text>
<text x="52" y="2229" textLength="197" lengthAdjust="spacingAndGlyphs">работников десять и больше человек</text>
<text x="42" y="2250" textLength="106" lengthAdjust="spacingAndGlyphs">**1330 с 01.12.2015</text>
</g>

<!-- Gas -->
<text class="h" x="52" y="2301" textLength="315" lengthAdjust="spacingAndGlyphs">ИЗМЕНЕНИЕ ТАРИФОВ НА ГАЗ ДЛЯ НАСЕЛЕНИЯ</text>
<text class="h" x="52" y="2321" textLength="229" lengthAdjust="spacingAndGlyphs">С 2012 ГОДА, ГРН. ЗА 1 М³, С НДС</text>
<g font-size="10" text-anchor="middle"><text x="83" y="2353">0,725</text><text x="163" y="2353">0,798</text><text x="283" y="2353">7,188</text><text x="389" y="2353">3,600</text><text x="436" y="2353">7,188</text></g>
<g font-size="8.5" text-anchor="middle">
<text x="83" y="2370">При наличии</text><text x="83" y="2381">газовых</text><text x="83" y="2391">счётчиков</text>
<text x="163" y="2370">При отсутствии</text><text x="163" y="2381">газовых</text><text x="163" y="2391">счётчиков</text>
</g>
<g class="dot"><line x1="83" y1="2400" x2="83" y2="2530"/><line x1="163" y1="2400" x2="163" y2="2530"/><line x1="283" y1="2360" x2="283" y2="2420"/><line x1="389" y1="2360" x2="389" y2="2482"/><line x1="436" y1="2360" x2="436" y2="2420"/></g>
<polygon points="69,2548 83,2534 83,2548" fill="#EBC160"/><polygon points="83,2548 83,2534 98,2548" fill="#FFD466"/>
<polygon points="149,2548 163,2534 163,2548" fill="#EBC160"/><polygon points="163,2548 163,2534 178,2548" fill="#FFD466"/>
<polygon points="268,2548 283,2424 283,2548" fill="#EE9C52"/><polygon points="283,2548 283,2424 298,2548" fill="#FFAE5E"/>
<polygon points="375,2548 389,2485 389,2548" fill="#EE9C52"/><polygon points="389,2548 389,2485 403,2548" fill="#FFAE5E"/>
<polygon points="422,2548 436,2424 436,2548" fill="#EE9C52"/><polygon points="436,2548 436,2424 450,2548" fill="#FFAE5E"/>
<circle cx="389" cy="2533" r="6.5" fill="#111"/><text x="389" y="2537" font-size="9" font-weight="bold" text-anchor="middle" style="fill:#fff">1</text>
<circle cx="436" cy="2533" r="6.5" fill="#111"/><text x="436" y="2537" font-size="9" font-weight="bold" text-anchor="middle" style="fill:#fff">2</text>
<rect x="55" y="2547" width="413" height="1.5" fill="#111"/>
<line x1="245" y1="2548" x2="245" y2="2553" stroke="#111"/><line x1="351" y1="2548" x2="351" y2="2553" stroke="#111"/>
<g font-size="8.5">
<text x="70" y="2565">При объёме потребления</text><text x="70" y="2576">до 2 500 м³ в год</text>
<text x="272" y="2567">с 1 мая</text><text x="272" y="2579">по 30 сентября</text>
<text x="375" y="2567">с 1 октября</text><text x="375" y="2579">по 30 апреля</text>
</g>
<polygon points="69,2616 75,2602 75,2616" fill="#EBC160"/><polygon points="75,2616 75,2602 82,2616" fill="#FFD466"/><text x="88" y="2615" font-size="9">2012 год</text>
<polygon points="69,2639 75,2625 75,2639" fill="#EE9C52"/><polygon points="75,2639 75,2625 82,2639" fill="#FFAE5E"/><text x="88" y="2638" font-size="9">2015 год</text>
<circle cx="164" cy="2611" r="7" fill="#111"/><text x="164" y="2615" font-size="9" font-weight="bold" text-anchor="middle" style="fill:#fff">1</text>
<text x="184" y="2615" font-size="9" textLength="202" lengthAdjust="spacingAndGlyphs">При объёме потребления до 200 м³ в месяц</text>
<circle cx="164" cy="2634" r="7" fill="#111"/><text x="164" y="2638" font-size="9" font-weight="bold" text-anchor="middle" style="fill:#fff">2</text>
<text x="184" y="2638" font-size="9" textLength="221" lengthAdjust="spacingAndGlyphs">При объёме потребления свыше 200 м³ в месяц</text>
<text x="58" y="2675" font-size="9" fill="#555" style="fill:#555" textLength="278" lengthAdjust="spacingAndGlyphs">Источники: minfin.gov.ua, index.minfin.com.ua, ukrstat.gov.ua</text>

<!-- Budget -->
<text class="h" x="536" y="1662" textLength="303" lengthAdjust="spacingAndGlyphs">ВЫПОЛНЕНИЕ ГОСУДАРСТВЕННОГО БЮДЖЕТА</text>
<text class="h" x="536" y="1682" textLength="160" lengthAdjust="spacingAndGlyphs">УКРАИНЫ, МЛН ГРИВЕН</text>
<g font-size="9.5"><text x="537" y="1726">Год</text><text x="587" y="1726">Доходы</text><text x="696" y="1726">Расходы</text><text x="806" y="1726">Кредит</text><text x="917" y="1713">Дефицит</text><text x="919" y="1727">бюджета</text></g>
<rect x="537" y="1743.5" width="433" height="1.2" fill="#111"/>
<g id="brows" font-size="15">
</g>
<g font-size="15">
<!-- rows T = 1764 + 66i -->
<g>
<polygon points="536,1764 567,1764 573,1779 567,1795 536,1795" fill="#111"/><text x="539" y="1785" class="w" textLength="24" lengthAdjust="spacingAndGlyphs">2008</text>
<rect x="587" y="1764" width="48.8" height="9.5" fill="#FFD466"/><rect x="697" y="1764" width="50.8" height="9.5" fill="#FBAA5C"/><rect x="809" y="1764" width="1" height="10" fill="#eee"/><rect x="919" y="1764" width="1.5" height="10" fill="#C9546A"/>
<text x="587" y="1791" textLength="58" lengthAdjust="spacingAndGlyphs">231 686,3</text><text x="697" y="1791" textLength="57" lengthAdjust="spacingAndGlyphs">241 454,5</text><text x="851" y="1791" text-anchor="end" textLength="43" lengthAdjust="spacingAndGlyphs">2 732,5</text><text x="970" y="1791" text-anchor="end" textLength="58" lengthAdjust="spacingAndGlyphs">−12 500,7</text>
</g>
<g>
<polygon points="536,1830 567,1830 573,1845 567,1861 536,1861" fill="#111"/><text x="539" y="1851" class="w" textLength="24" lengthAdjust="spacingAndGlyphs">2009</text>
<rect x="587" y="1830" width="44.1" height="9.5" fill="#FFD466"/><rect x="697" y="1830" width="51" height="9.5" fill="#FBAA5C"/><rect x="809" y="1830" width="1" height="10" fill="#eee"/><rect x="919" y="1830" width="7.4" height="10" fill="#C9546A"/>
<text x="587" y="1857" textLength="58" lengthAdjust="spacingAndGlyphs">209 700,3</text><text x="697" y="1857" textLength="57" lengthAdjust="spacingAndGlyphs">242 437,2</text><text x="851" y="1857" text-anchor="end" textLength="43" lengthAdjust="spacingAndGlyphs">2 780,3</text><text x="970" y="1857" text-anchor="end" textLength="58" lengthAdjust="spacingAndGlyphs">−35 517,2</text>
</g>
<g>
<polygon points="536,1896 567,1896 573,1911 567,1927 536,1927" fill="#111"/><text x="539" y="1917" class="w" textLength="24" lengthAdjust="spacingAndGlyphs">2010</text>
<rect x="587" y="1896" width="50.7" height="9.5" fill="#FFD466"/><rect x="697" y="1896" width="63.9" height="9.5" fill="#FBAA5C"/><rect x="809" y="1896" width="1" height="10" fill="#eee"/><rect x="919" y="1896" width="13.4" height="10" fill="#C9546A"/>
<text x="587" y="1923" textLength="58" lengthAdjust="spacingAndGlyphs">240 615,2</text><text x="697" y="1923" textLength="57" lengthAdjust="spacingAndGlyphs">303 588,7</text><text x="851" y="1923" text-anchor="end" textLength="43" lengthAdjust="spacingAndGlyphs">1 292,0</text><text x="970" y="1923" text-anchor="end" textLength="58" lengthAdjust="spacingAndGlyphs">−64 265,5</text>
</g>
<g>
<polygon points="536,1962 567,1962 573,1977 567,1993 536,1993" fill="#111"/><text x="539" y="1983" class="w" textLength="24" lengthAdjust="spacingAndGlyphs">2011</text>
<rect x="587" y="1962" width="66.2" height="9.5" fill="#FFD466"/><rect x="697" y="1962" width="70.2" height="9.5" fill="#FBAA5C"/><rect x="809" y="1962" width="1" height="10" fill="#eee"/><rect x="919" y="1962" width="4.9" height="10" fill="#C9546A"/>
<text x="587" y="1989" textLength="58" lengthAdjust="spacingAndGlyphs">314 616,9</text><text x="697" y="1989" textLength="57" lengthAdjust="spacingAndGlyphs">333 459,5</text><text x="851" y="1989" text-anchor="end" textLength="43" lengthAdjust="spacingAndGlyphs">4 715,0</text><text x="970" y="1989" text-anchor="end" textLength="58" lengthAdjust="spacingAndGlyphs">−23 557,6</text>
</g>
<g>
<polygon points="536,2028 567,2028 573,2043 567,2059 536,2059" fill="#111"/><text x="539" y="2049" class="w" textLength="24" lengthAdjust="spacingAndGlyphs">2012</text>
<rect x="587" y="2028" width="72.8" height="9.5" fill="#FFD466"/><rect x="697" y="2028" width="83.3" height="9.5" fill="#FBAA5C"/><rect x="809" y="2028" width="1" height="10" fill="#eee"/><rect x="919" y="2028" width="11.1" height="10" fill="#C9546A"/>
<text x="587" y="2055" textLength="58" lengthAdjust="spacingAndGlyphs">346 025,5</text><text x="697" y="2055" textLength="57" lengthAdjust="spacingAndGlyphs">395 661,8</text><text x="851" y="2055" text-anchor="end" textLength="43" lengthAdjust="spacingAndGlyphs">3 751,1</text><text x="970" y="2055" text-anchor="end" textLength="58" lengthAdjust="spacingAndGlyphs">−53 387,4</text>
</g>
<g>
<polygon points="536,2094 567,2094 573,2109 567,2125 536,2125" fill="#111"/><text x="539" y="2115" class="w" textLength="24" lengthAdjust="spacingAndGlyphs">2013</text>
<rect x="587" y="2094" width="71.4" height="9.5" fill="#FFD466"/><rect x="697" y="2094" width="84.9" height="9.5" fill="#FBAA5C"/><rect x="809" y="2094" width="1" height="10" fill="#eee"/><rect x="919" y="2094" width="13.5" height="10" fill="#C9546A"/>
<text x="587" y="2121" textLength="58" lengthAdjust="spacingAndGlyphs">339 180,3</text><text x="697" y="2121" textLength="57" lengthAdjust="spacingAndGlyphs">403 403,2</text><text x="851" y="2121" text-anchor="end" textLength="32" lengthAdjust="spacingAndGlyphs">484,7</text><text x="970" y="2121" text-anchor="end" textLength="58" lengthAdjust="spacingAndGlyphs">−64 707,6</text>
</g>
<g>
<polygon points="536,2160 567,2160 573,2175 567,2191 536,2191" fill="#111"/><text x="539" y="2181" class="w" textLength="24" lengthAdjust="spacingAndGlyphs">2014</text>
<rect x="587" y="2160" width="75.1" height="9.5" fill="#FFD466"/><rect x="697" y="2160" width="90.5" height="9.5" fill="#FBAA5C"/><rect x="809" y="2160" width="1" height="10" fill="#eee"/><rect x="919" y="2160" width="16.3" height="10" fill="#C9546A"/>
<text x="587" y="2187" textLength="58" lengthAdjust="spacingAndGlyphs">356 957,7</text><text x="697" y="2187" textLength="57" lengthAdjust="spacingAndGlyphs">430 108,8</text><text x="851" y="2187" text-anchor="end" textLength="43" lengthAdjust="spacingAndGlyphs">4 919,4</text><text x="970" y="2187" text-anchor="end" textLength="58" lengthAdjust="spacingAndGlyphs">−78 070,5</text>
</g>
<g>
<polygon points="536,2226 567,2226 573,2241 567,2257 536,2257" fill="#111"/><text x="539" y="2247" class="w" textLength="24" lengthAdjust="spacingAndGlyphs">2015</text>
<rect x="587" y="2226" width="57" height="9.5" fill="url(#py)"/><rect x="697" y="2226" width="58" height="9.5" fill="url(#po)"/><rect x="809" y="2226" width="1" height="10" fill="#eee"/><rect x="919" y="2226" width="1.3" height="10" fill="#C9546A"/>
<text x="587" y="2253" textLength="58" lengthAdjust="spacingAndGlyphs">287 923,5</text><text x="697" y="2253" textLength="57" lengthAdjust="spacingAndGlyphs">289 359,3</text><text x="851" y="2253" text-anchor="end" textLength="32" lengthAdjust="spacingAndGlyphs">832,0</text><text x="970" y="2253" text-anchor="end" textLength="52" lengthAdjust="spacingAndGlyphs">−2 267,8</text>
<text x="539" y="2268" font-size="8">июль</text>
</g>
</g>
<!-- operators -->
<g fill="#d0d0d0">
<circle cx="671" cy="1786" r="7"/><circle cx="780" cy="1786" r="7"/><circle cx="885" cy="1786" r="7"/>
<circle cx="671" cy="1852" r="7"/><circle cx="780" cy="1852" r="7"/><circle cx="885" cy="1852" r="7"/>
<circle cx="671" cy="1918" r="7"/><circle cx="780" cy="1918" r="7"/><circle cx="885" cy="1918" r="7"/>
<circle cx="671" cy="1984" r="7"/><circle cx="780" cy="1984" r="7"/><circle cx="885" cy="1984" r="7"/>
<circle cx="671" cy="2050" r="7"/><circle cx="780" cy="2050" r="7"/><circle cx="885" cy="2050" r="7"/>
<circle cx="671" cy="2116" r="7"/><circle cx="780" cy="2116" r="7"/><circle cx="885" cy="2116" r="7"/>
<circle cx="671" cy="2182" r="7"/><circle cx="780" cy="2182" r="7"/><circle cx="885" cy="2182" r="7"/>
<circle cx="671" cy="2248" r="7"/><circle cx="780" cy="2248" r="7"/><circle cx="885" cy="2248" r="7"/>
</g>
<g fill="#fff">
<rect x="667" y="1785" width="8" height="2"/><rect x="776" y="1785" width="8" height="2"/><rect x="881" y="1783.5" width="8" height="1.6"/><rect x="881" y="1787" width="8" height="1.6"/>
<rect x="667" y="1851" width="8" height="2"/><rect x="776" y="1851" width="8" height="2"/><rect x="881" y="1849.5" width="8" height="1.6"/><rect x="881" y="1853" width="8" height="1.6"/>
<rect x="667" y="1917" width="8" height="2"/><rect x="776" y="1917" width="8" height="2"/><rect x="881" y="1915.5" width="8" height="1.6"/><rect x="881" y="1919" width="8" height="1.6"/>
<rect x="667" y="1983" width="8" height="2"/><rect x="776" y="1983" width="8" height="2"/><rect x="881" y="1981.5" width="8" height="1.6"/><rect x="881" y="1985" width="8" height="1.6"/>
<rect x="667" y="2049" width="8" height="2"/><rect x="776" y="2049" width="8" height="2"/><rect x="881" y="2047.5" width="8" height="1.6"/><rect x="881" y="2051" width="8" height="1.6"/>
<rect x="667" y="2115" width="8" height="2"/><rect x="776" y="2115" width="8" height="2"/><rect x="881" y="2113.5" width="8" height="1.6"/><rect x="881" y="2117" width="8" height="1.6"/>
<rect x="667" y="2181" width="8" height="2"/><rect x="776" y="2181" width="8" height="2"/><rect x="881" y="2179.5" width="8" height="1.6"/><rect x="881" y="2183" width="8" height="1.6"/>
<rect x="667" y="2247" width="8" height="2"/><rect x="776" y="2247" width="8" height="2"/><rect x="881" y="2245.5" width="8" height="1.6"/><rect x="881" y="2249" width="8" height="1.6"/>
</g>

<!-- Unemployment -->
<text class="h" x="535" y="2313" textLength="186" lengthAdjust="spacingAndGlyphs">УРОВЕНЬ БЕЗРАБОТИЦЫ***</text>
<circle cx="659" cy="2385" r="52" fill="#e6e6e6"/>
<path d="M659,2385 L681,2337.9 A52,52 0 0 1 701.1,2354.4 Z" fill="#FFD466"/>
<circle cx="886" cy="2384" r="52" fill="#e6e6e6"/>
<path d="M886,2384 L909.6,2337.7 A52,52 0 0 1 932.3,2360.4 Z" fill="#FBAA5C"/>
<text x="535" y="2420" font-size="110" font-weight="bold" textLength="86" lengthAdjust="spacingAndGlyphs">8,1</text>
<text x="624" y="2360" font-size="22" font-weight="bold" textLength="14" lengthAdjust="spacingAndGlyphs">%</text>
<text x="771" y="2420" font-size="110" font-weight="bold" textLength="77" lengthAdjust="spacingAndGlyphs">10</text>
<text x="858" y="2360" font-size="22" font-weight="bold" textLength="14" lengthAdjust="spacingAndGlyphs">%</text>
<line class="dot" x1="659" y1="2445" x2="659" y2="2460"/><line class="dot" x1="884" y1="2445" x2="884" y2="2460"/>
<text x="659" y="2472" font-size="9" text-anchor="middle">2012</text>
<text x="883" y="2472" font-size="9" text-anchor="middle">за I квартал 2015</text>
<text x="521" y="2494" font-size="8.5" textLength="110" lengthAdjust="spacingAndGlyphs">*** по методологии МОТ</text>

<!-- Electricity -->
<text class="h" x="528" y="2548" textLength="300" lengthAdjust="spacingAndGlyphs">ИЗМЕНЕНИЕ ТАРИФОВ НА ЭЛЕКТРОЭНЕРГИЮ</text>
<text class="h" x="528" y="2568" textLength="287" lengthAdjust="spacingAndGlyphs">ДЛЯ НАСЕЛЕНИЯ С 2012 ГОДА, КОП./КВТ-Ч</text>
<text x="528" y="2589" font-size="9" textLength="214" lengthAdjust="spacingAndGlyphs">При объёме потребления до 150 кВт-ч в месяц</text>
<rect x="557.5" y="2610" width="1.2" height="26" fill="#111"/>
<rect x="559" y="2613" width="159" height="9" fill="#FDDC86"/><rect x="559" y="2626" width="262" height="9" fill="#FBAA5C"/>
<line class="dot" x1="723" y1="2617.5" x2="878" y2="2617.5"/><line class="dot" x1="826" y1="2630.5" x2="878" y2="2630.5"/>
<g font-size="9"><text x="528" y="2620">2012</text><text x="528" y="2634">2015</text><text x="888" y="2620">28,02</text><text x="888" y="2634">45,6</text></g>

<!-- credits -->
<text transform="translate(994,2683) rotate(-90)" font-size="9.5" font-weight="bold" textLength="950" lengthAdjust="spacingAndGlyphs">Редактор: Светлана Прохорова. Дизайнер: Дмитрий Годунов. Руководитель: Михаил Симаков. Арт-директор: Антон Степанов</text>
</svg>
</body></html>
